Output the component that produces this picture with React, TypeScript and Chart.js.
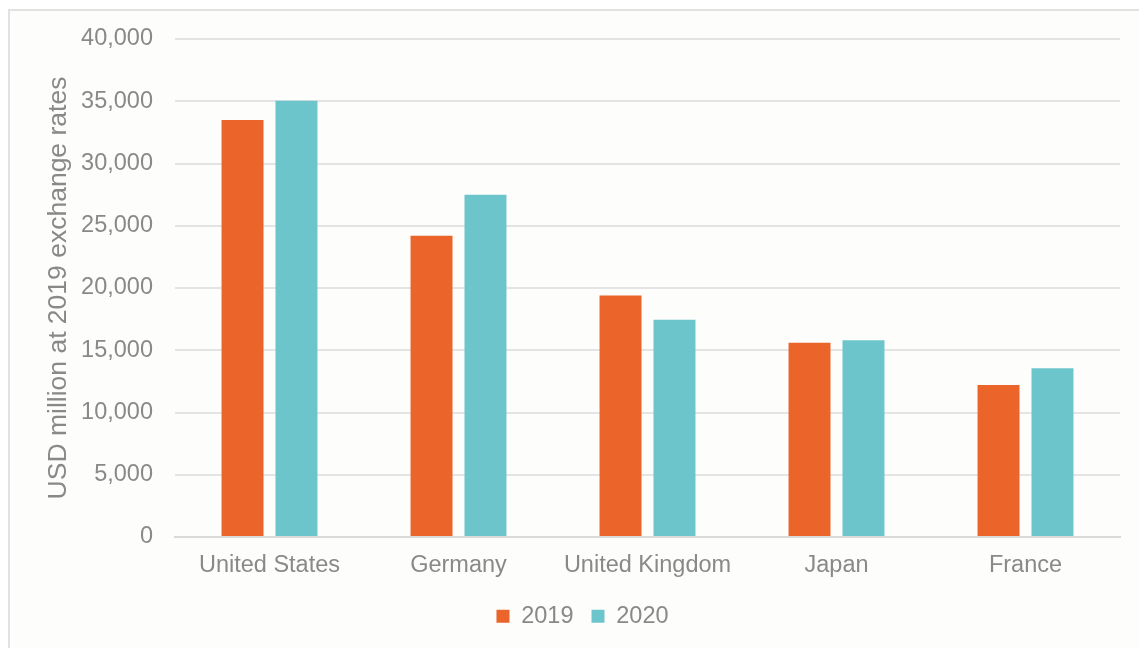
import React, { useEffect, useRef } from "react";
import { Chart, registerables } from "chart.js";

Chart.register(...registerables);

const categories = ["United States", "Germany", "United Kingdom", "Japan", "France"];
const values2019 = [33500, 24200, 19400, 15600, 12200];
const values2020 = [35050, 27500, 17450, 15800, 13550];
const seriesLabels = ["2019", "2020"];
const yTitle = "USD million at 2019 exchange rates";

const TEXT = "#898989";
const FONT = "'Liberation Sans', Arial, sans-serif";

export default function App() {
  const ref = useRef<HTMLCanvasElement | null>(null);

  useEffect(() => {
    if (!ref.current) return;
    const chart = new Chart(ref.current, {
      type: "bar",
      data: {
        labels: categories,
        datasets: [
          {
            label: seriesLabels[0],
            data: values2019,
            backgroundColor: "#EB652B",
            categoryPercentage: 0.571,
            barPercentage: 0.778,
          },
          {
            label: seriesLabels[1],
            data: values2020,
            backgroundColor: "#6DC5CC",
            categoryPercentage: 0.571,
            barPercentage: 0.778,
          },
        ],
      },
      options: {
        responsive: false,
        animation: false,
        layout: { padding: { left: 45, right: 19, top: 39, bottom: 10 } },
        plugins: {
          tooltip: { enabled: false },
          legend: {
            position: "bottom",
            labels: {
              boxWidth: 13,
              boxHeight: 13,
              padding: 18,
              color: TEXT,
              font: { family: FONT, size: 23.5 },
            },
          },
        },
        scales: {
          x: {
            grid: { display: false, drawTicks: false },
            border: { display: true, color: "#d9d9d9", width: 2 },
            ticks: { color: TEXT, font: { family: FONT, size: 23.5 }, padding: 14, maxRotation: 0 },
            afterFit: (s: any) => {
              s.height = 49.5;
            },
          },
          y: {
            min: 0,
            max: 40000,
            ticks: {
              stepSize: 5000,
              color: TEXT,
              padding: 22,
              font: { family: FONT, size: 23.5 },
              callback: (v: any) => Number(v).toLocaleString("en-US"),
            },
            grid: { color: "#e4e4e4", lineWidth: 2, drawTicks: false },
            border: { display: false },
            title: {
              display: true,
              text: yTitle,
              color: TEXT,
              font: { family: FONT, size: 26.5, lineHeight: 1 },
              padding: { top: 0, bottom: 0 },
            },
            afterFit: (s: any) => {
              s.width = 130;
            },
          },
        },
      },
    });
    return () => chart.destroy();
  }, []);

  return (
    <div
      style={{
        position: "fixed",
        left: 0,
        top: 0,
        width: 1139,
        height: 648,
        background: "#ffffff",
        overflow: "hidden",
      }}
    >
      <div
        style={{
          position: "absolute",
          left: 8,
          top: 9,
          width: 1150,
          height: 660,
          borderLeft: "2px solid #e2e2e2",
          borderTop: "2px solid #e2e2e2",
          background: "#fdfdfb",
        }}
      />
      <canvas
        ref={ref}
        width={1139}
        height={648}
        style={{ position: "absolute", left: 0, top: 0, width: 1139, height: 648 }}
      />
    </div>
  );
}
